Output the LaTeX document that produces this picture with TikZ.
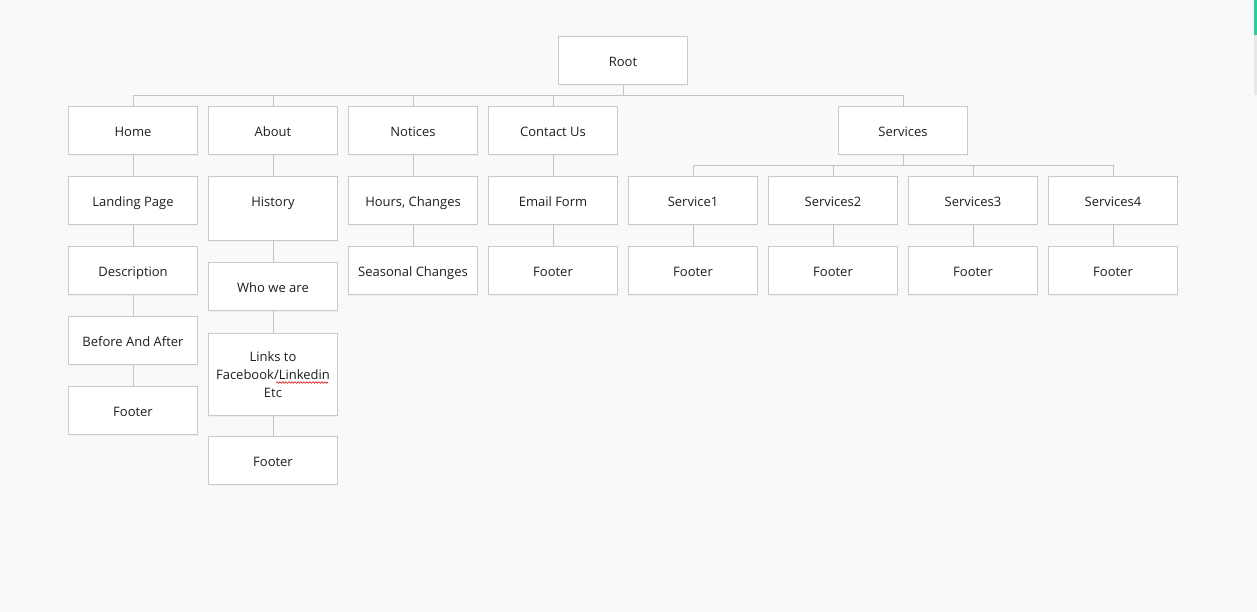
\documentclass[tikz,border=0pt]{standalone}
\usepackage{fontspec}
\setmainfont{Open Sans}
\usetikzlibrary{shadows,decorations.pathmorphing}
\definecolor{bg}{HTML}{F8F9FB}
\definecolor{boxline}{HTML}{CACACA}
\definecolor{conncol}{HTML}{C4C4C4}
\definecolor{txt}{HTML}{1E1E1E}
\definecolor{scrollg}{HTML}{2ECC9A}
\tikzset{
  boxbase/.style={draw=boxline, line width=0.9pt, fill=white, minimum width=129, minimum height=48.5,
    inner sep=0pt, align=center, text=txt, font=\fontsize{13}{18}\selectfont,
    drop shadow={opacity=0.08, shadow xshift=0pt, shadow yshift=-1.5pt}},
  box/.style={boxbase, text height=15.5pt, text depth=3pt},
  conn/.style={draw=conncol, line width=0.9pt},
}
\begin{document}
\begin{tikzpicture}[x=1pt,y=-1pt]
\fill[bg] (0,0) rectangle (1257,612);
\useasboundingbox (0,0) rectangle (1257,612);
% scrollbar artefact
\fill[black!9] (1254,35) rectangle (1257,95);
\fill[scrollg] (1254,0) rectangle (1257,35);

\node[box] (root) at (623,60.5) {Root};
\node[box] (home) at (133,130.5) {Home};
\node[box] (about) at (273,130.5) {About};
\node[box] (notices) at (413,130.5) {Notices};
\node[box] (contact) at (553,130.5) {Contact Us};
\node[box] (services) at (903,130.5) {Services};

\node[box] (landing) at (133,200.5) {Landing Page};
\node[box] (desc) at (133,270.5) {Description};
\node[box] (before) at (133,340.5) {Before And After};
\node[box] (footh) at (133,410.5) {Footer};

\node[box, minimum height=64.5, text depth=19pt] (history) at (273,208.5) {History};
\node[box] (who) at (273,286.5) {Who we are};
\node[boxbase, minimum height=82.5] (links) at (273,374.5) {Links to\\Facebook/Linkedin\\Etc};
\node[box] (foota) at (273,460.5) {Footer};

\node[box] (hours) at (413,200.5) {Hours, Changes};
\node[box] (seasonal) at (413,270.5) {Seasonal Changes};

\node[box] (email) at (553,200.5) {Email Form};
\node[box] (footc) at (553,270.5) {Footer};

\node[box] (s1) at (693,200.5) {Service1};
\node[box] (s2) at (833,200.5) {Services2};
\node[box] (s3) at (973,200.5) {Services3};
\node[box] (s4) at (1113,200.5) {Services4};
\node[box] (f1) at (693,270.5) {Footer};
\node[box] (f2) at (833,270.5) {Footer};
\node[box] (f3) at (973,270.5) {Footer};
\node[box] (f4) at (1113,270.5) {Footer};

% spellcheck underline
\draw[red!85!black, line width=0.6pt, decorate, decoration={snake, amplitude=0.8pt, segment length=3pt}]
  ([xshift=3pt,yshift=-8pt]links.center) -- ([xshift=55pt,yshift=-8pt]links.center);

% connectors
\foreach \c in {home,about,notices,contact,services}
  \draw[conn] (root.south) -- ++(0,10.5) -| (\c.north);
\foreach \c in {s1,s2,s3,s4}
  \draw[conn] (services.south) -- ++(0,10.5) -| (\c.north);
\draw[conn] (home) -- (landing);
\draw[conn] (landing) -- (desc);
\draw[conn] (desc) -- (before);
\draw[conn] (before) -- (footh);
\draw[conn] (about) -- (history);
\draw[conn] (history) -- (who);
\draw[conn] (who) -- (links);
\draw[conn] (links) -- (foota);
\draw[conn] (notices) -- (hours);
\draw[conn] (hours) -- (seasonal);
\draw[conn] (contact) -- (email);
\draw[conn] (email) -- (footc);
\draw[conn] (s1) -- (f1);
\draw[conn] (s2) -- (f2);
\draw[conn] (s3) -- (f3);
\draw[conn] (s4) -- (f4);
\end{tikzpicture}
\end{document}
